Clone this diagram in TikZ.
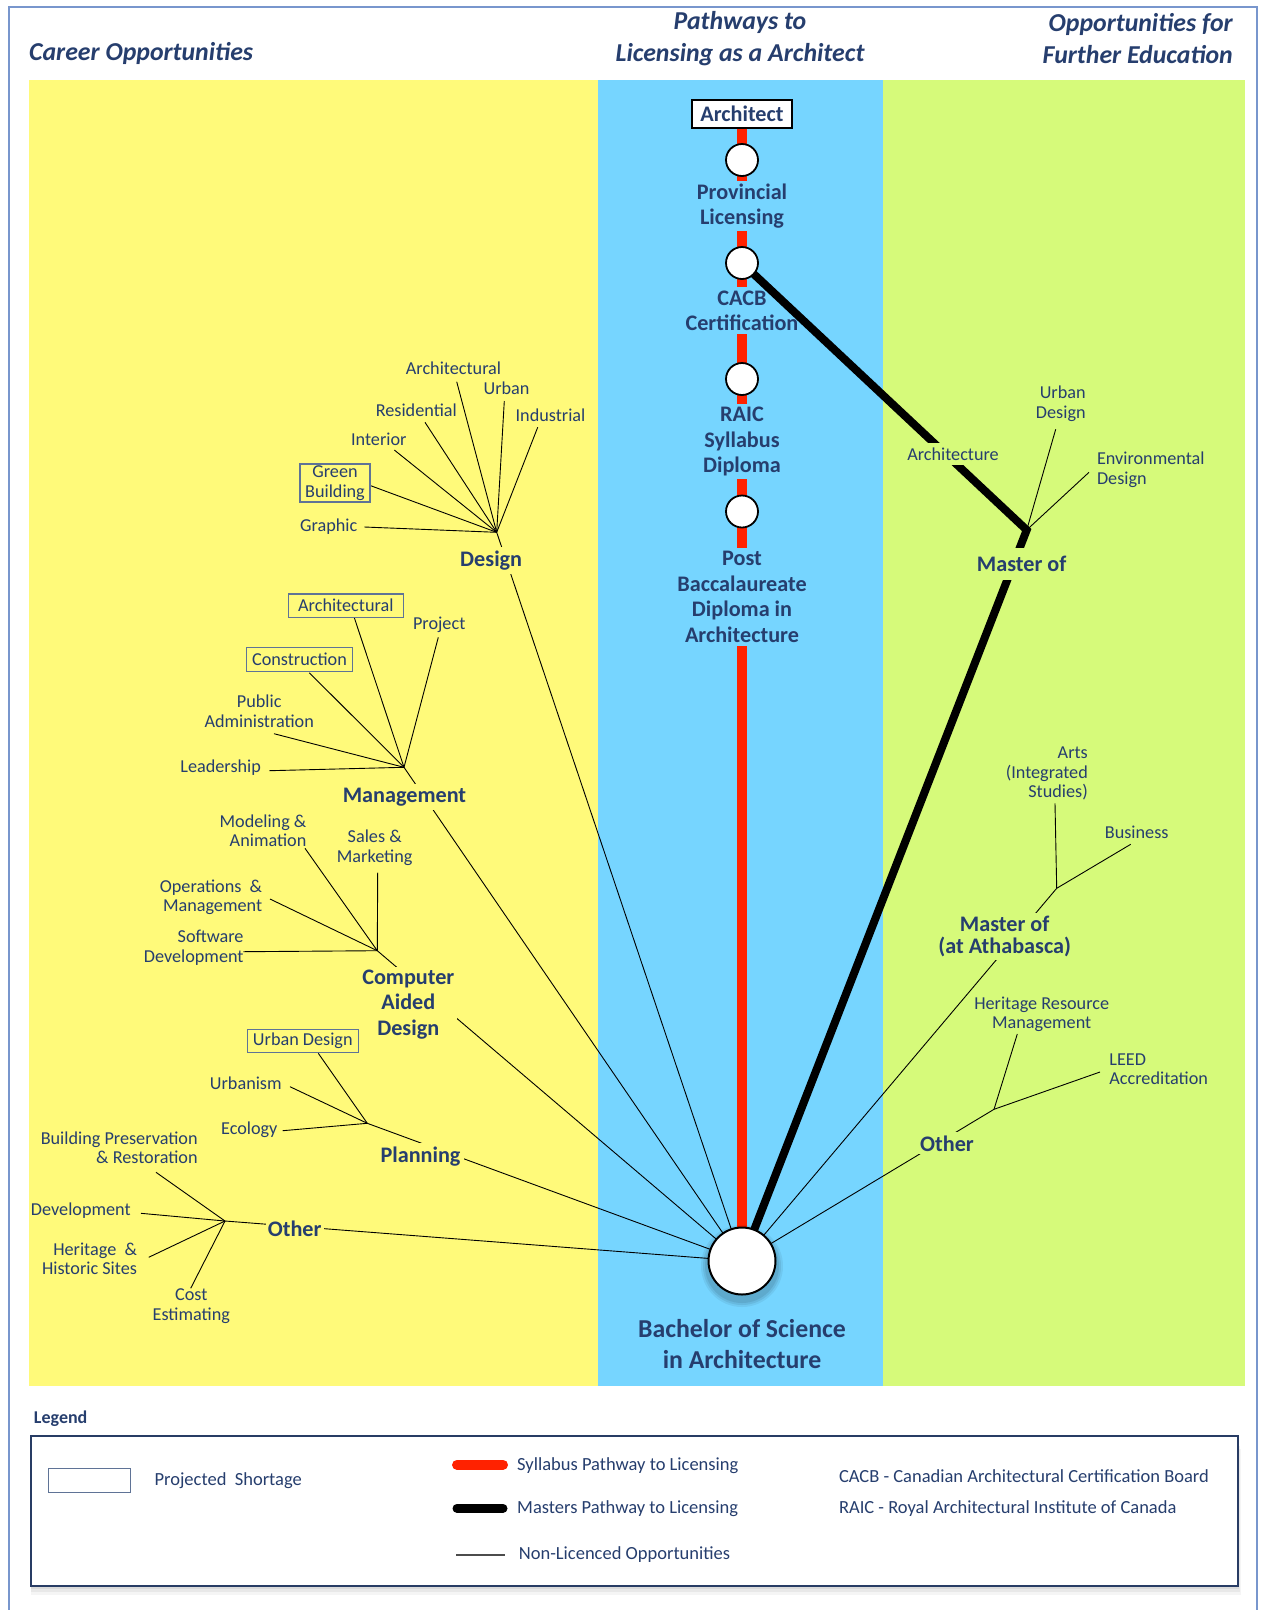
\documentclass[tikz,border=0pt]{standalone}
\usepackage{fontspec}
\setmainfont{Carlito}
\usetikzlibrary{calc}
\definecolor{txt}{RGB}{38,62,110}
\definecolor{colY}{RGB}{255,250,122}
\definecolor{colB}{RGB}{118,213,255}
\definecolor{colG}{RGB}{214,250,122}
\definecolor{redp}{RGB}{255,34,0}
\definecolor{frame}{RGB}{120,150,205}
\definecolor{frametwo}{RGB}{95,115,150}
\definecolor{navy}{RGB}{40,60,100}
\begin{document}
\begin{tikzpicture}[x=1pt,y=-1pt,
  sm/.style={font=\fontsize{18.2}{19.5}\selectfont, text=txt, align=center, inner sep=1pt},
  bg/.style={font=\bfseries\fontsize{22.2}{25.5}\selectfont, text=txt, align=center, inner sep=4pt},
  hd/.style={font=\bfseries\itshape\fontsize{25.8}{31.8}\selectfont, text=txt, inner sep=0pt},
  lg/.style={font=\fontsize{18.5}{20}\selectfont, text=txt, anchor=west, inner sep=0pt},
  thinl/.style={line width=0.9pt, black},
  short/.style={draw=frametwo, line width=1.1pt, inner sep=0pt},
  stopc/.style={circle, draw=black, line width=1.8pt, fill=white, minimum size=32, inner sep=0pt}]
\useasboundingbox (0,0) rectangle (1261,1610);
\fill[white] (0,0) rectangle (1261,1610);
% outer frame
\draw[frame, line width=1.5pt] (9,1610) -- (9,7) -- (1257,7) -- (1257,1610);
% columns
\fill[colY] (29,80) rectangle (598,1386);
\fill[colB] (598,80) rectangle (883,1386);
\fill[colG] (883,80) rectangle (1245,1386);
% headers
\node[hd, anchor=west] (hcar) at (29,53.5) {Career Opportunities};
\node[hd, align=center] (hpath) at (740,38.5) {Pathways to\\Licensing as a Architect};
\node[hd, align=right, anchor=east] (hopp) at (1233,38.5) {Opportunities for\\Further Education};

% central nodes
\node[draw=black, line width=2pt, fill=white, font=\bfseries\fontsize{22.2}{25.5}\selectfont, text=txt, minimum width=100, minimum height=28, inner sep=0pt] (arch) at (742,113.5) {Architect};
\coordinate (c1) at (742,160);
\coordinate (c2) at (742,263);
\coordinate (c3) at (742,379);
\coordinate (c4) at (742,511.5);
\coordinate (bachc) at (742,1261);
\coordinate (mj) at (1026.7,530);

% red line
\draw[redp, line width=10.5pt] (arch.south) -- (bachc);

% left fans
\coordinate (dc) at (496.7,532.3);
\coordinate (mc) at (404,767.3);
\coordinate (cc) at (377.3,950.7);
\coordinate (pc) at (367.3,1123.3);
\coordinate (oc) at (225,1221);
\coordinate (rmc) at (1056.7,888.3);
\coordinate (roc) at (994,1109.3);

\foreach \f in {dc,mc,cc,pc,oc,rmc,roc}{\draw[thinl] (\f) -- (bachc);}

% design fan
\coordinate (eGr) at (364.3,527);
\coordinate (eGb) at (370.7,485.7);
\coordinate (eIn) at (394.3,450);
\coordinate (eRe) at (425,422.3);
\coordinate (eAr) at (456.7,381.7);
\coordinate (eUr) at (504.3,401);
\coordinate (eId) at (537.7,427.3);
\foreach \e in {eGr,eGb,eIn,eRe,eAr,eUr,eId}{\draw[thinl] (dc) -- (\e);}
\node[sm] (dAr) at (453.5,368.3) {Architectural};
\node[sm] (dUr) at (506.5,388.3) {Urban};
\node[sm] (dRe) at (416.3,410) {Residential};
\node[sm] (dId) at (550.5,415) {Industrial};
\node[sm] (dIn) at (378.8,439.3) {Interior};
\node[sm, short, minimum width=70, minimum height=38] (dGb) at (335,483) {Green\\Building};
\node[sm] (dGr) at (328.7,526.7) {Graphic};
\node[bg, fill=colY] (design) at (491.2,560.7) {Design};

% management fan
\coordinate (mAe) at (354.3,617.7);
\coordinate (mPe) at (438.3,637.3);
\coordinate (mCe) at (309.3,672.7);
\coordinate (mPAe) at (274,733.7);
\coordinate (mLe) at (269.3,770.7);
\foreach \e in {mAe,mPe,mCe,mPAe,mLe}{\draw[thinl] (mc) -- (\e);}
\node[sm, short, minimum width=115, minimum height=23.5] (mAr) at (345.8,605.7) {Architectural};
\node[sm] (mPr) at (439.2,625) {Project};
\node[sm, short, minimum width=105.6, minimum height=23.5] (mCo) at (299.5,659.3) {Construction};
\node[sm] (mPA) at (259.2,711.2) {Public\\Administration};
\node[sm] (mLd) at (220.7,767.7) {Leadership};
\node[bg, fill=colY] (manag) at (404.5,796.7) {Management};

% CAD fan
\coordinate (cMe) at (305,848.3);
\coordinate (cSe) at (377.7,872.7);
\coordinate (cOe) at (270,899);
\coordinate (cSDe) at (243.3,951.7);
\foreach \e in {cMe,cSe,cOe,cSDe}{\draw[thinl] (cc) -- (\e);}
\node[sm, align=right] (cMo) at (263,830.8) {Modeling \&\\Animation};
\node[sm] (cSa) at (374.7,847.8) {Sales \&\\Marketing};
\node[sm, align=right] (cOp) at (211,897.2) {Operations~~\&\\Management};
\node[sm, align=right] (cSo) at (193.7,947.8) {Software\\Development};
\node[bg, fill=colY, inner sep=3pt] (cad) at (408.3,1004.2) {Computer\\Aided\\Design};

% planning fan
\coordinate (pUDe) at (318.3,1053.3);
\coordinate (pUe) at (290,1086.7);
\coordinate (pEe) at (282.7,1130.7);
\foreach \e in {pUDe,pUe,pEe}{\draw[thinl] (pc) -- (\e);}
\node[sm, short, minimum width=111, minimum height=23.5] (pUD) at (302.8,1041) {Urban Design};
\node[sm] (pUr) at (245.8,1083.3) {Urbanism};
\node[sm] (pEc) at (249.3,1130) {Ecology};
\node[bg, fill=colY] (plan) at (420.5,1156.7) {Planning};

% other fan (left)
\coordinate (oBe) at (156,1172.3);
\coordinate (oDe) at (141,1213.3);
\coordinate (oHe) at (148.7,1257.3);
\coordinate (oCe) at (190.7,1288.3);
\foreach \e in {oBe,oDe,oHe,oCe}{\draw[thinl] (oc) -- (\e);}
\node[sm, align=right] (oBu) at (119.2,1147.8) {Building Preservation\\\& Restoration};
\node[sm] (oDv) at (80.8,1210.7) {Development};
\node[sm, align=right] (oHs) at (89.5,1258.8) {Heritage~~\&\\Historic Sites};
\node[sm] (oCo) at (191.3,1306.3) {Cost\\Estimating};
\node[bg, fill=colY, inner sep=2pt] (othl) at (294.7,1228.3) {Other};

% pathway labels
\node[bg, fill=colB, inner sep=3pt] (lprov) at (742,206) {Provincial\\Licensing};
\node[bg, fill=colB, inner sep=3pt] (lcacb) at (742,310.6) {CACB\\Certification};
\node[bg, fill=colB, inner sep=3pt] (lraic) at (742,441.5) {RAIC\\Syllabus\\Diploma};
\node[bg, fill=colB, inner sep=3pt] (lpost) at (742,597) {Post\\Baccalaureate\\Diploma in\\Architecture};

% black masters pathway
\draw[black, line width=8pt] (c2) -- (mj) -- (bachc);
\coordinate (mUDe) at (1055.7,429.3);
\coordinate (mEDe) at (1089,472.3);
\foreach \e in {mUDe,mEDe}{\draw[thinl] (mj) -- (\e);}
\node[sm, align=right] (rUD) at (1060.8,403.7) {Urban\\Design};
\node[sm, align=left] (rED) at (1150.8,469.7) {Environmental\\Design};
\node[sm, fill=colG, inner sep=5pt] (rAr) at (953,454) {Architecture};
\node[bg, fill=colG, inner ysep=8pt] (mof) at (1021.7,563.8) {Master of};

% right master of (at athabasca)
\coordinate (aAe) at (1055,803.3);
\coordinate (aBe) at (1130.7,844.3);
\foreach \e in {aAe,aBe}{\draw[thinl] (rmc) -- (\e);}
\node[sm, align=right] (aAr) at (1046.8,773.7) {Arts\\(Integrated\\Studies)};
\node[sm] (aBu) at (1136.7,832.3) {Business};
\node[bg, fill=colG, inner sep=3pt, font=\bfseries\fontsize{22.2}{22}\selectfont] (mofa) at (1004.7,936.2) {Master of\\(at Athabasca)};

% right other
\coordinate (rHe) at (1017.3,1034);
\coordinate (rLe) at (1100,1072);
\foreach \e in {rHe,rLe}{\draw[thinl] (roc) -- (\e);}
\node[sm] (rHR) at (1041.7,1014.5) {Heritage Resource\\Management};
\node[sm, align=left] (rLE) at (1158.7,1069) {LEED\\Accreditation};
\node[bg, fill=colG, inner sep=3pt] (othr) at (947,1143.3) {Other};

% circles
\node[stopc] (n1) at (c1) {};
\node[stopc] (n2) at (c2) {};
\node[stopc] (n3) at (c3) {};
\node[stopc] (n4) at (c4) {};
\foreach \o/\r in {0.06/41,0.07/39,0.08/37}{\fill[black, opacity=\o] (742,1266) circle (\r);}
\node[circle, draw=black, line width=2pt, fill=white, minimum size=67, inner sep=0pt] (bach) at (bachc) {};
\node[font=\bfseries\fontsize{25.8}{30.8}\selectfont, text=txt, align=center] (lbach) at (742,1344.2) {Bachelor of Science\\in Architecture};

% legend
\node[font=\bfseries\fontsize{18}{20}\selectfont, text=txt, anchor=west, inner sep=0pt] (legt) at (33.8,1419) {Legend};
\foreach \o/\d in {0.04/9,0.05/6,0.06/3}{\fill[black, opacity=\o] (30.6,1440+\d) rectangle (1238+\d/3,1586+\d);}
\draw[navy, line width=2pt, fill=white] (30.6,1436) rectangle (1238,1586);
\node[draw=frametwo, line width=1.1pt, minimum width=82, minimum height=24, inner sep=0pt] (lgbox) at (89.3,1480.3) {};
\node[lg] (lgps) at (154.4,1480.7) {Projected~~Shortage};
\coordinate (lr1) at (457,1464.7); \coordinate (lr2) at (503,1464.7);
\draw[redp, line width=10pt, line cap=round] (lr1) -- (lr2);
\node[lg] (lgsy) at (517,1466) {Syllabus Pathway to Licensing};
\coordinate (lb1) at (457,1508.3); \coordinate (lb2) at (503,1508.3);
\draw[black, line width=9pt, line cap=round] (lb1) -- (lb2);
\node[lg] (lgma) at (517,1508.3) {Masters Pathway to Licensing};
\coordinate (lt1) at (456,1555); \coordinate (lt2) at (505,1555);
\draw[black!70, line width=1.3pt] (lt1) -- (lt2);
\node[lg] (lgnl) at (518.7,1555) {Non-Licenced Opportunities};
\node[lg] (lgca) at (838.8,1475.7) {CACB - Canadian Architectural Certification Board};
\node[lg] (lgra) at (838.8,1508.3) {RAIC - Royal Architectural Institute of Canada};
\end{tikzpicture}
\end{document}
